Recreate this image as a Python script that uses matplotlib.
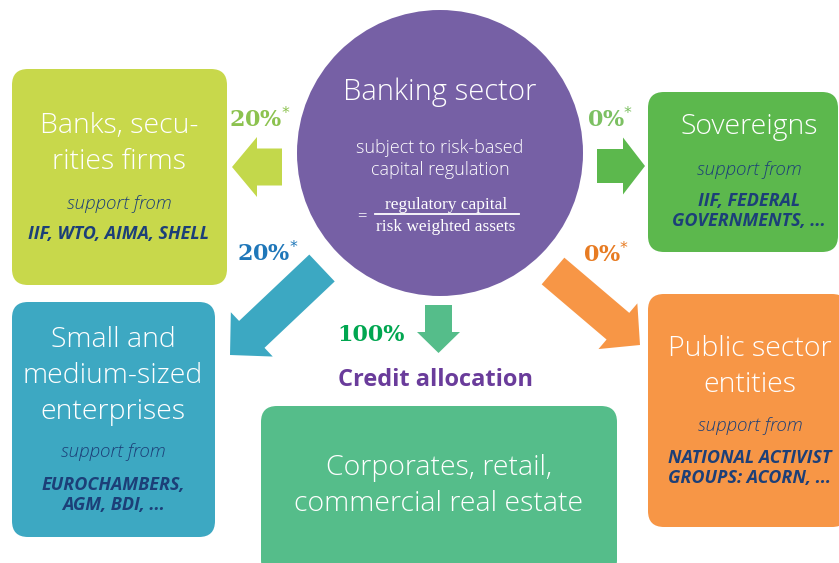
import matplotlib.pyplot as plt
from matplotlib.patches import FancyBboxPatch, Circle, FancyArrow

# texts and values of the diagram
centre_title = "Banking sector"
centre_sub = ["subject to risk-based", "capital regulation"]
formula_num = "regulatory capital"
formula_den = "risk weighted assets"

sectors = ["Banks, secu-\nrities firms", "Sovereigns",
           "Small and\nmedium-sized\nenterprises", "Public sector\nentities",
           "Corporates, retail,\ncommercial real estate"]
supporters = ["IIF, WTO, AIMA, SHELL", "IIF, FEDERAL\nGOVERNMENTS, ...",
              "EUROCHAMBERS,\nAGM, BDI, ...", "NATIONAL ACTIVIST\nGROUPS: ACORN, ...", None]
risk_weights = ["20%", "0%", "20%", "0%", "100%"]
starred = [True, True, True, True, False]

box_colors = ["#c8d84b", "#5cb84d", "#3da8c2", "#f79646", "#55bd8a"]
arrow_colors = ["#c3d84b", "#5cb84d", "#3ca8c2", "#f79646", "#55bd8a"]
pct_colors = ["#8cc24f", "#7cc062", "#1f77b9", "#e77b22", "#00a650"]

# layout (pixels)
boxes = [(12, 69, 215, 216), (648, 92, 190, 160), (12, 302, 203, 235),
         (648, 294, 200, 233), (261, 406, 356, 170)]
title_pos = [(119, 144), (749, 127), (113, 376), (750, 367), (439, 486)]
support_pos = [(119, 204), (749, 170), (113, 452), (750, 426)]
org_pos = [(119, 234), (749, 211), (113, 495), (750, 468)]
pct_pos = [(260, 120), (610, 120), (268, 254), (606, 255), (371, 335)]
# arrows: x, y, dx, dy, width, head width, head length
arrows = [(282, 167, -50, 0, 37, 60, 25), (597, 166, 48, 0, 34, 57, 22),
          (322, 268, -92, 87, 37, 61, 30), (553, 271, 87, 74, 35, 60, 29),
          (438.5, 305, 0, 48, 27, 43, 21)]

sans = "Open Sans"
dark_blue = "#1c3f78"

fig = plt.figure(figsize=(8.39, 5.63), dpi=100)
ax = fig.add_axes([0, 0, 1, 1])
ax.set_xlim(0, 839)
ax.set_ylim(563, 0)
ax.axis("off")

for (x, y, w, h), c in zip(boxes, box_colors):
    ax.add_patch(FancyBboxPatch((x, y), w, h, boxstyle="round,pad=0,rounding_size=16",
                                fc=c, ec="none"))

for (x, y, dx, dy, wd, hw, hl), c in zip(arrows, arrow_colors):
    ax.add_patch(FancyArrow(x, y, dx, dy, width=wd, head_width=hw, head_length=hl,
                            length_includes_head=True, fc=c, ec="none"))

ax.add_patch(Circle((440, 153), 143, fc="#7660a5", ec="none"))
ax.text(440, 92, centre_title, color="white", fontsize=21, family=sans,
        fontweight="light", ha="center", va="center")
ax.text(440, 159, "\n".join(centre_sub), color="white", fontsize=13, family=sans,
        fontweight="light", ha="center", va="center", linespacing=1.3)
ax.text(362, 216, "=", color="white", fontsize=12, family="Liberation Serif",
        ha="center", va="center")
ax.text(446, 205, formula_num, color="white", fontsize=12.5, family="Liberation Serif",
        ha="center", va="center")
ax.plot([375, 519], [214, 214], color="white", lw=1.3)
ax.text(446, 227, formula_den, color="white", fontsize=12.5, family="Liberation Serif",
        ha="center", va="center")

for i, name in enumerate(sectors):
    x, y = title_pos[i]
    ax.text(x, y, name, color="white", fontsize=20.5, family=sans, fontweight="light",
            ha="center", va="center", linespacing=1.38)
    if supporters[i] is not None:
        sx, sy = support_pos[i]
        ax.text(sx, sy, "support from", color=dark_blue, fontsize=13.5, family=sans,
                style="italic", fontweight="light", ha="center", va="center")
        ox, oy = org_pos[i]
        ax.text(ox, oy, supporters[i], color=dark_blue, fontsize=13, family=sans,
                style="italic", fontweight="bold", ha="center", va="center",
                linespacing=1.2)
    px, py = pct_pos[i]
    label = risk_weights[i] + ("$^{*}$" if starred[i] else "")
    ax.text(px, py, label, color=pct_colors[i], fontsize=16, family="DejaVu Serif",
            fontweight="bold", ha="center", va="center")

ax.text(435, 380, "Credit allocation", color="#6a3c9b", fontsize=17, family=sans,
        fontweight="bold", ha="center", va="center")

fig.savefig("out.png", dpi=100)
